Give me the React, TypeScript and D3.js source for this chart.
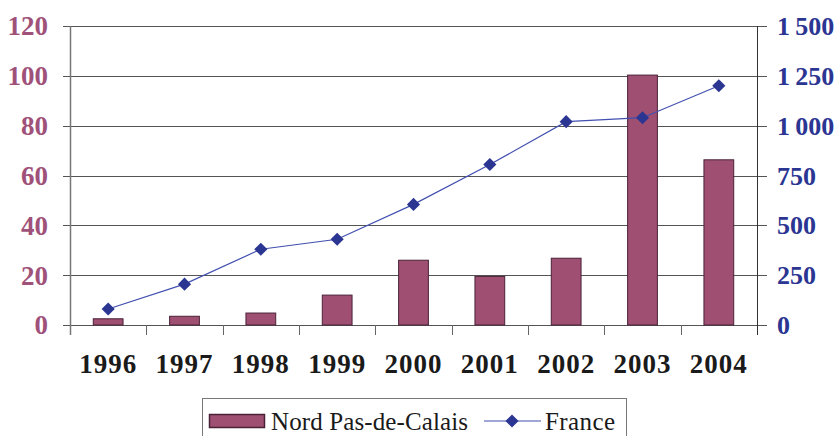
import * as d3 from "d3";
import React, { useEffect, useRef } from "react";

const years = ["1996", "1997", "1998", "1999", "2000", "2001", "2002", "2003", "2004"];
const nordValues = [2.5, 3.5, 4.8, 12, 26, 19.5, 26.8, 100.3, 66.3];
const franceValues = [80, 205, 380, 430, 605, 805, 1020, 1040, 1200];
const leftTicks = [0, 20, 40, 60, 80, 100, 120];
const rightTicks = [0, 250, 500, 750, 1000, 1250, 1500];

const W = 839;
const H = 436;

export default function App() {
  const svgRef = useRef<SVGSVGElement>(null);

  useEffect(() => {
    const svg = d3.select(svgRef.current);
    svg.selectAll("*").remove();

    const margin = { top: 26, right: 82, bottom: 111, left: 70 };
    const x0 = margin.left;
    const x1 = W - margin.right; // 757
    const yTop = margin.top;
    const yBot = H - margin.bottom; // 325

    const font = "Liberation Serif, Tinos, Times New Roman, DejaVu Serif, serif";
    const maroon = "#a0517a";
    const blue = "#2b3592";

    const x = d3.scaleBand().domain(years).range([x0, x1]).paddingInner(0.61).paddingOuter(0.305);
    const xCat = d3.scaleBand().domain(years).range([x0, x1]);
    const yL = d3.scaleLinear().domain([0, 120]).range([yBot, yTop]);
    const yR = d3.scaleLinear().domain([0, 1500]).range([yBot, yTop]);

    // gridlines
    svg.append("g")
      .selectAll("line")
      .data(leftTicks)
      .enter()
      .append("line")
      .attr("x1", x0 - 7)
      .attr("x2", x1 + 10)
      .attr("y1", (d) => Math.round(yL(d)) + 0.5)
      .attr("y2", (d) => Math.round(yL(d)) + 0.5)
      .attr("stroke", "#555")
      .attr("stroke-width", 1);

    // axes lines
    svg.append("line")
      .attr("x1", x0 + 0.5).attr("x2", x0 + 0.5)
      .attr("y1", yTop).attr("y2", yBot + 10)
      .attr("stroke", "#777").attr("stroke-width", 1.5);
    svg.append("line")
      .attr("x1", x1 + 0.5).attr("x2", x1 + 0.5)
      .attr("y1", yTop).attr("y2", yBot + 10)
      .attr("stroke", "#333").attr("stroke-width", 1);

    // category separators
    svg.append("g")
      .selectAll("line")
      .data(years.slice(1))
      .enter()
      .append("line")
      .attr("x1", (d) => Math.round(xCat(d)!) + 0.5)
      .attr("x2", (d) => Math.round(xCat(d)!) + 0.5)
      .attr("y1", yBot)
      .attr("y2", yBot + 10)
      .attr("stroke", "#666");

    // bars
    svg.append("g")
      .selectAll("rect")
      .data(years)
      .enter()
      .append("rect")
      .attr("x", (d) => x(d)!)
      .attr("y", (d, i) => yL(nordValues[i]))
      .attr("width", x.bandwidth())
      .attr("height", (d, i) => yBot - yL(nordValues[i]))
      .attr("fill", "#9e4f72")
      .attr("stroke", "#4a2238")
      .attr("stroke-width", 1);

    // France line
    const cx = (d: string) => xCat(d)! + xCat.bandwidth() / 2;
    const line = d3.line<number>()
      .x((d, i) => cx(years[i]))
      .y((d) => yR(d));
    svg.append("path")
      .datum(franceValues)
      .attr("d", line)
      .attr("fill", "none")
      .attr("stroke", "#4250b0")
      .attr("stroke-width", 1.2);

    const diamond = d3.symbol().type(d3.symbolDiamond2).size(110);
    svg.append("g")
      .selectAll("path")
      .data(franceValues)
      .enter()
      .append("path")
      .attr("d", diamond)
      .attr("transform", (d, i) => `translate(${cx(years[i])},${yR(d)})`)
      .attr("fill", blue);

    // left labels
    svg.append("g")
      .selectAll("text")
      .data(leftTicks)
      .enter()
      .append("text")
      .attr("x", 48)
      .attr("y", (d) => yL(d))
      .attr("dy", "0.35em")
      .attr("text-anchor", "end")
      .style("font-family", font)
      .style("font-weight", "bold")
      .style("font-size", "27px")
      .attr("fill", maroon)
      .text((d) => d);

    // right labels
    const fmt = (d: number) => d >= 1000 ? `${Math.floor(d / 1000)}\u2009${String(d % 1000).padStart(3, "0")}` : `${d}`;
    svg.append("g")
      .selectAll("text")
      .data(rightTicks)
      .enter()
      .append("text")
      .attr("x", 777)
      .attr("y", (d) => yR(d))
      .attr("dy", "0.35em")
      .attr("text-anchor", "start")
      .style("font-family", font)
      .style("font-weight", "bold")
      .style("font-size", "26px")
      .attr("fill", blue)
      .text(fmt);

    // x labels
    svg.append("g")
      .selectAll("text")
      .data(years)
      .enter()
      .append("text")
      .attr("x", (d) => cx(d))
      .attr("y", 364)
      .attr("dy", "0.35em")
      .attr("text-anchor", "middle")
      .style("font-family", font)
      .style("font-weight", "bold")
      .style("font-size", "27px")
      .style("letter-spacing", "1px")
      .attr("fill", "#1a1a1a")
      .text((d) => d);

    // legend
    const lg = svg.append("g");
    lg.append("rect")
      .attr("x", 202.5).attr("y", 398.5)
      .attr("width", 424).attr("height", 50)
      .attr("fill", "#fff").attr("stroke", "#777");
    lg.append("rect")
      .attr("x", 209.5).attr("y", 414.5)
      .attr("width", 55).attr("height", 13)
      .attr("fill", "#9e4f72").attr("stroke", "#4a2238").attr("stroke-width", 1.5);
    lg.append("text")
      .attr("x", 271).attr("y", 421).attr("dy", "0.35em")
      .attr("textLength", 197).attr("lengthAdjust", "spacing")
      .style("font-family", font).style("font-size", "25px").attr("fill", "#1a1a1a")
      .text("Nord Pas-de-Calais");
    lg.append("line")
      .attr("x1", 484).attr("x2", 541).attr("y1", 421).attr("y2", 421)
      .attr("stroke", "#4250b0").attr("stroke-width", 1.2);
    lg.append("path")
      .attr("d", diamond)
      .attr("transform", "translate(512,421)")
      .attr("fill", blue);
    lg.append("text")
      .attr("x", 545).attr("y", 421).attr("dy", "0.35em")
      .attr("textLength", 70).attr("lengthAdjust", "spacing")
      .style("font-family", font).style("font-size", "25px").attr("fill", "#1a1a1a")
      .text("France");
  }, []);

  return (
    <svg
      ref={svgRef}
      width={W}
      height={H}
      style={{ position: "absolute", left: 0, top: 0, background: "#fff" }}
    />
  );
}
